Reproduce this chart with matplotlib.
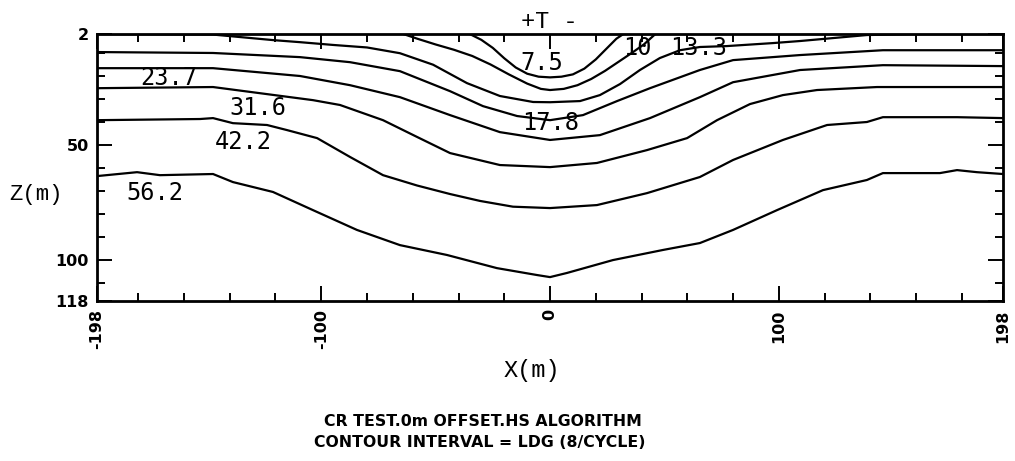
import matplotlib.pyplot as plt

# Contour polylines: x along the profile (m) and depth z (m)
c75_x = [-35, -30, -25, -20, -15, -10, -5, 0, 5, 10, 15, 20, 25, 29, 32]
c75_z = [2, 4.5, 8, 12.5, 16.5, 19.2, 20.5, 20.8, 20.5, 19.5, 17, 13, 8, 4, 2]

c10_x = [-64, -58, -50, -42, -34, -26, -18, -10, -4, 0, 6, 12, 18, 24, 30, 36, 41, 46]
c10_z = [2, 4, 6.5, 8.8, 11.5, 15.2, 19.5, 23.5, 25.8, 26.3, 25.8, 24.2, 21.5, 18, 14, 10, 6.5, 2]

c133_x = [-198, -147.3, -121.1, -109.3, -94.9, -80.0, -65.6, -51.1, -36.3, -21.9, -7.4, 0,
          13.1, 21.8, 30.6, 39.3, 48.0, 56.8, 65.5, 77.3, 97.4, 109.3, 138.5, 160.4, 198]
c133_z = [2, 2.2, 4.6, 5.5, 6.7, 7.8, 10.3, 15.3, 23.3, 28.9, 31.5, 31.6,
          31.1, 28.5, 23.7, 17.6, 12.4, 9.0, 7.6, 7.2, 5.9, 5.0, 2.4, 2, 2]

c178_x = [-198, -147.3, -109.3, -87.4, -65.6, -43.7, -29.3, -14.4, 0, 14.4, 29.3, 43.7,
          65.5, 80, 109.3, 145.5, 198]
c178_z = [9.8, 10.2, 12.0, 14.2, 18.1, 26.8, 33.3, 37.6, 39.4, 37.2, 31.1, 25.5,
          17.6, 13.3, 11.1, 9.0, 9.0]

c237_x = [-198, -147.3, -109.3, -87.4, -65.6, -43.7, -21.9, 0, 21.8, 43.7, 65.5, 80,
          109.3, 145.5, 198]
c237_z = [16.8, 16.8, 20.2, 24.2, 29.4, 37.2, 44.6, 48.0, 45.9, 38.5, 29.4, 22.9,
          17.6, 15.5, 15.9]

c316_x = [-198, -147.3, -103.6, -91.8, -73, -58.1, -43.7, -21.9, 0, 20.5, 42.4, 59.9,
          73.0, 87.4, 101.8, 116.7, 142.9, 198]
c316_z = [25.5, 25.0, 30.7, 32.8, 39.4, 46.7, 53.7, 58.9, 59.8, 58.0, 52.4, 47.2,
          39.4, 32.4, 28.5, 26.3, 25.0, 25.0]

c422_x = [-198, -153, -147.3, -138.6, -123.7, -115, -101.8, -87.4, -73, -58.1, -43.7,
          -30.6, -16.2, 0, 20.5, 42.4, 65.5, 80, 101.8, 121.1, 138.5, 145.5, 177.9, 198]
c422_z = [39.4, 38.9, 38.5, 40.7, 41.5, 43.7, 47.2, 55.4, 63.3, 67.8, 71.5,
          74.5, 77.0, 77.6, 76.3, 71.1, 64.1, 56.7, 48.0, 41.5, 40.2, 38.1, 38.1, 38.5]

c562_x = [-198, -180.5, -170.5, -147.3, -138.6, -121.1, -103.6, -84.4, -65.6, -45.0,
          -23.2, -5.7, 0, 7.4, 27.5, 49.4, 65.5, 80.0, 99.2, 119.3, 138.5, 145.5, 160.4,
          170.4, 177.9, 186.6, 198]
c562_z = [63.7, 62.0, 63.3, 62.8, 66.3, 70.6, 78.5, 87.1, 93.7, 98.0,
          103.7, 106.7, 107.6, 105.8, 100.2, 95.8, 92.8, 87.1, 78.5, 69.8, 65.4, 62.4, 62.4,
          62.4, 61.1, 62.0, 62.8]

contours = [(c75_x, c75_z), (c10_x, c10_z), (c133_x, c133_z), (c178_x, c178_z),
            (c237_x, c237_z), (c316_x, c316_z), (c422_x, c422_z), (c562_x, c562_z)]

# level labels and where they sit on the section
label_text = ["7.5", "10", "13.3", "17.8", "23.7", "31.6", "42.2", "56.2"]
label_x = [-3.7, 38.2, 64.9, 0.4, -166.7, -127.9, -134.0, -172.7]
label_z = [14.6, 8.1, 8.1, 40.7, 21.1, 34.1, 48.9, 70.9]

x_ticks = [-198, -100, 0, 100, 198]
x_minor = [-180, -160, -140, -120, -80, -60, -40, -20, 20, 40, 60, 80, 120, 140, 160, 180]
z_ticks = [2, 50, 100, 118]
z_minor = [10, 20, 30, 40, 60, 70, 80, 90, 110]

fig = plt.figure(figsize=(10.15, 4.61), dpi=100)
ax = fig.add_axes([0.0956, 0.347, 0.8926, 0.579])

for cx, cz in contours:
    ax.plot(cx, cz, color='black', lw=1.6, solid_joinstyle='round')

for txt, lx, lz in zip(label_text, label_x, label_z):
    ax.text(lx, lz, txt, ha='center', va='center', fontsize=17,
            family='DejaVu Sans Mono', color='black')

ax.set_xlim(-198, 198)
ax.set_ylim(118, 2)

ax.set_xticks(x_ticks)
ax.set_xticks(x_minor, minor=True)
ax.set_yticks(z_ticks)
ax.set_yticks(z_minor, minor=True)
ax.set_xticklabels([str(v) for v in x_ticks], rotation=90, fontsize=11.5,
                   fontweight='bold', family='DejaVu Sans')
ax.set_yticklabels([str(v) for v in z_ticks], fontsize=11.5,
                   fontweight='bold', family='DejaVu Sans')

ax.tick_params(which='both', direction='in', top=True, right=True, width=1.4, color='black')
ax.tick_params(which='major', length=11, pad=6)
ax.tick_params(which='minor', length=5.5)
for sp in ax.spines.values():
    sp.set_linewidth(2)

fig.text(36 / 1015, 1 - 194 / 461, "Z(m)", ha='center', va='center',
         fontsize=16, family='Liberation Mono')
fig.text(532 / 1015, 1 - 370 / 461, "X(m)", ha='center', va='center',
         fontsize=17, family='Liberation Mono')
fig.text(549 / 1015, 1 - 21 / 461, "+T -", ha='center', va='center',
         fontsize=17, family='Liberation Mono')

fig.text(483 / 1015, 1 - 422 / 461, "CR TEST.0m OFFSET.HS ALGORITHM",
         ha='center', va='center', fontsize=11.3, fontweight='bold', family='DejaVu Sans')
fig.text(480 / 1015, 1 - 442 / 461, "CONTOUR INTERVAL = LDG (8/CYCLE)",
         ha='center', va='center', fontsize=11.3, fontweight='bold', family='DejaVu Sans')

fig.savefig('out.png', dpi=100)
